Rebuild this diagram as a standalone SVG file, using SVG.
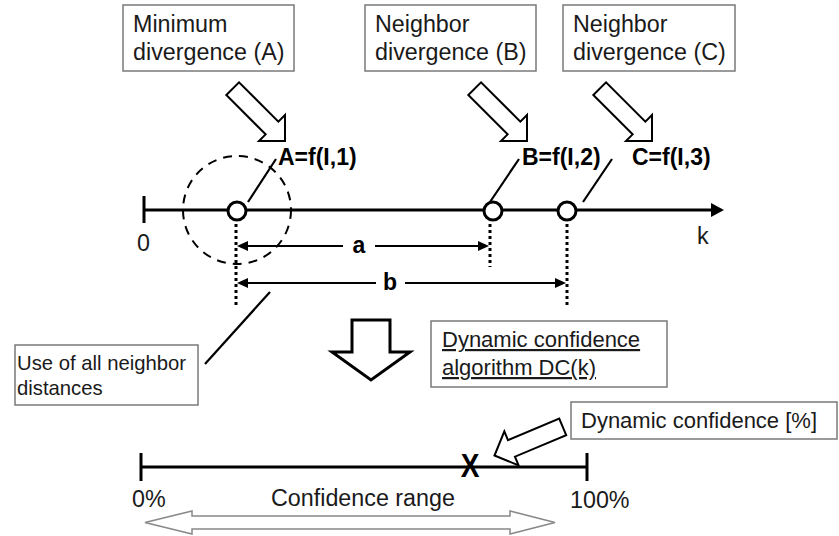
<svg xmlns="http://www.w3.org/2000/svg" width="839" height="536" viewBox="0 0 839 536">
<style>
text{font-family:"Liberation Sans",Arial,sans-serif;fill:#1a1a1a}
.t{font-size:22px}
.tb{font-size:23.3px}
.s{font-size:20.3px}
.b{font-size:23px;font-weight:bold;fill:#000}
.box{fill:#fff;stroke:#7a7a7a;stroke-width:1.5}
.ln{stroke:#000;stroke-width:2.2;fill:none}
.ax{stroke:#000;stroke-width:3;fill:none}
.dot{stroke:#000;stroke-width:3;stroke-dasharray:3 3;fill:none}
.harrow{fill:#fff;stroke:#000;stroke-width:2}
.node{fill:#fff;stroke:#000;stroke-width:3}
</style>
<defs>
<polygon id="hollow" points="0,0 -18.4,-18.4 -18.4,-9 -74,-9 -74,9 -18.4,9 -18.4,18.4"/>
</defs>

<g id="box-A">
<rect class="box" x="123" y="5" width="171" height="66"/>
<text class="tb" x="133" y="32">Minimum</text>
<text class="tb" x="133" y="60">divergence (A)</text>
</g>
<g id="box-B">
<rect class="box" x="365" y="5" width="171" height="66"/>
<text class="tb" x="375" y="32">Neighbor</text>
<text class="tb" x="375" y="60">divergence (B)</text>
</g>
<g id="box-C">
<rect class="box" x="563" y="5" width="172" height="66"/>
<text class="tb" x="573" y="32">Neighbor</text>
<text class="tb" x="573" y="60">divergence (C)</text>
</g>

<g id="arrow-A"><use href="#hollow" class="harrow" transform="translate(285,141) rotate(45)"/></g>
<g id="arrow-B"><use href="#hollow" class="harrow" transform="translate(527,141) rotate(45)"/></g>
<g id="arrow-C"><use href="#hollow" class="harrow" transform="translate(652,141) rotate(45)"/></g>

<g id="labels-f">
<text class="b" x="278" y="165">A=f(I,1)</text>
<text class="b" x="522" y="165">B=f(I,2)</text>
<text class="b" x="632" y="165">C=f(I,3)</text>
</g>

<g id="axis-k">
<line class="ax" x1="144" y1="210" x2="714" y2="210"/>
<line class="ax" x1="144" y1="196" x2="144" y2="223"/>
<polygon points="711,203 724,210 711,217" fill="#000"/>
<text class="tb" x="137" y="251">0</text>
<text class="tb" x="697" y="244">k</text>
</g>

<g id="dashed-circle">
<circle cx="237" cy="210" r="54" fill="none" stroke="#000" stroke-width="2" stroke-dasharray="9 7"/>
</g>

<g id="connectors">
<line class="ln" x1="248" y1="202" x2="276" y2="159"/>
<line class="ln" x1="490" y1="202" x2="519" y2="159"/>
<line class="ln" x1="583" y1="202" x2="612" y2="159"/>
<line class="ln" x1="270" y1="292" x2="205" y2="364"/>
<line class="dot" x1="236" y1="224" x2="236" y2="306"/>
<line class="dot" x1="490" y1="224" x2="490" y2="267"/>
<line class="dot" x1="567" y1="224" x2="567" y2="306"/>
<line class="ln" x1="245" y1="246" x2="343" y2="246"/>
<line class="ln" x1="375" y1="246" x2="480" y2="246"/>
<polygon points="237,246 248,241 248,251" fill="#000"/>
<polygon points="489,246 478,241 478,251" fill="#000"/>
<line class="ln" x1="245" y1="283" x2="376" y2="283"/>
<line class="ln" x1="405" y1="283" x2="557" y2="283"/>
<polygon points="237,283 248,278 248,288" fill="#000"/>
<polygon points="566,283 555,278 555,288" fill="#000"/>
</g>

<g id="nodes">
<circle class="node" cx="237" cy="211" r="9"/>
<circle class="node" cx="493" cy="211" r="9"/>
<circle class="node" cx="567" cy="211" r="9"/>
</g>

<g id="dim-labels">
<text class="b" x="359" y="253" text-anchor="middle">a</text>
<text class="b" x="390" y="290" text-anchor="middle">b</text>
</g>

<g id="box-use">
<rect class="box" x="15" y="345" width="183" height="60"/>
<text class="s" x="17" y="370">Use of all neighbor</text>
<text class="s" x="17" y="395">distances</text>
</g>

<g id="down-arrow">
<polygon points="352,320 390,320 390,352 410,352 371,380 332,352 352,352" fill="#fff" stroke="#000" stroke-width="3" stroke-linejoin="miter"/>
</g>

<g id="box-dc">
<rect class="box" x="431" y="321" width="236" height="66"/>
<text class="t" x="442" y="347" text-decoration="underline">Dynamic confidence</text>
<text class="t" x="442" y="375" text-decoration="underline">algorithm DC(k)</text>
</g>

<g id="box-dynconf">
<rect class="box" x="571" y="402" width="266" height="37"/>
<text class="t" x="581" y="428">Dynamic confidence [%]</text>
</g>

<g id="arrow-dynconf"><use href="#hollow" class="harrow" transform="translate(494.5,455.5) rotate(157.2)"/></g>

<g id="axis-conf">
<line class="ax" x1="141" y1="467" x2="587" y2="467"/>
<line class="ax" x1="141" y1="453" x2="141" y2="481"/>
<line class="ax" x1="587" y1="453" x2="587" y2="481"/>
<text x="470" y="477" text-anchor="middle" style="font-size:33px;font-weight:bold;fill:#000" transform="translate(470,0) scale(0.85,1) translate(-470,0)">X</text>
<text class="tb" x="132" y="507">0%</text>
<text class="tb" x="570" y="508">100%</text>
<text class="tb" x="363" y="506" text-anchor="middle">Confidence range</text>
</g>

<g id="range-arrow">
<polygon points="145,522.5 192,511 192,516 510,516 510,511 555,522.5 510,534 510,529 192,529 192,534" fill="#fff" stroke="#888" stroke-width="1.5"/>
</g>
</svg>
